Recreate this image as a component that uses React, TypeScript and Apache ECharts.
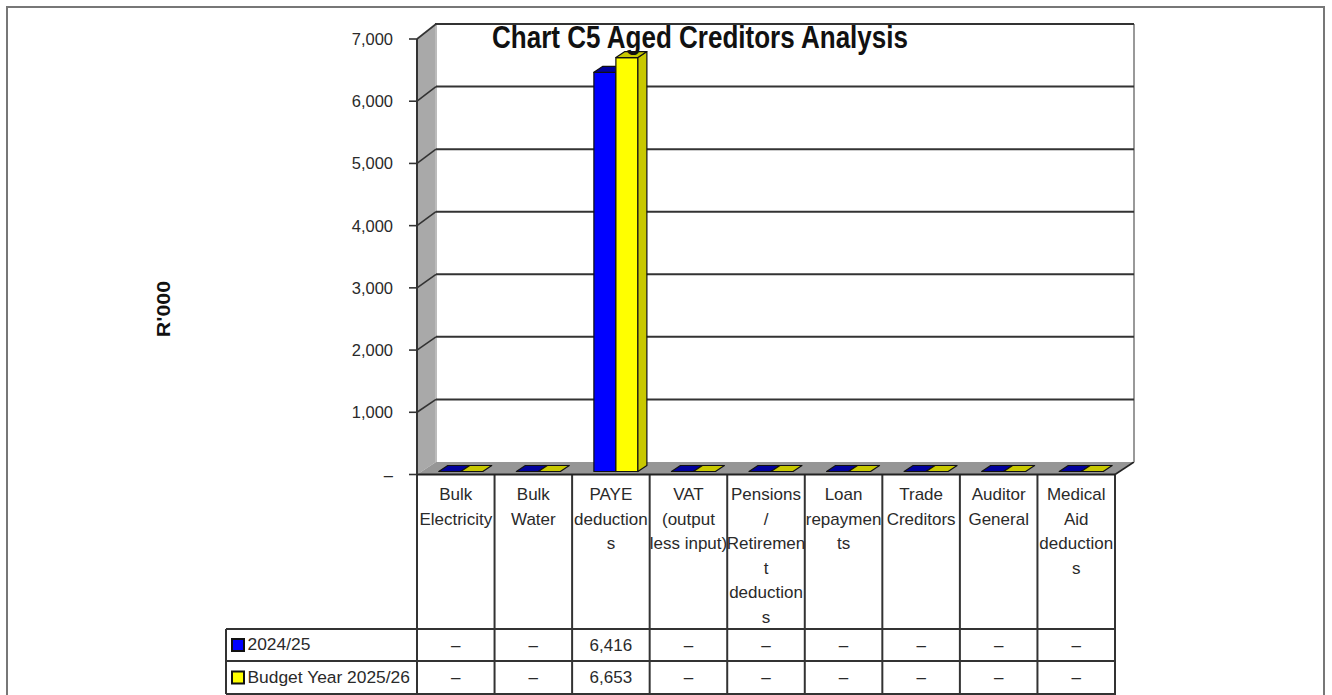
import React, { useEffect, useRef } from "react";
import * as echarts from "echarts";

const categories = [
  "Bulk\nElectricity",
  "Bulk\nWater",
  "PAYE\ndeduction\ns",
  "VAT\n(output\nless input)",
  "Pensions\n/\nRetiremen\nt\ndeduction\ns",
  "Loan\nrepaymen\nts",
  "Trade\nCreditors",
  "Auditor\nGeneral",
  "Medical\nAid\ndeduction\ns",
];
const series2024 = [0, 0, 6416, 0, 0, 0, 0, 0, 0];
const series2025 = [0, 0, 6653, 0, 0, 0, 0, 0, 0];
const seriesNames = ["2024/25", "Budget Year 2025/26"];
const yTicks = [0, 1000, 2000, 3000, 4000, 5000, 6000, 7000];
const titleText = "Chart C5 Aged Creditors Analysis";
const yName = "R'000";

const FONT = "'Liberation Sans', Arial, sans-serif";
const TXT = "#2a2a2a";
const PLOT_L = 417, PLOT_R = 1115, PLOT_T = 39, PLOT_B = 474.5;
const WALL_DX = 19;
const backDy = (v: number) => 12.5 + (2.5 * v) / 7000;
const ROW_TOP = 629, ROW_MID = 661, ROW_BOT = 694, LEG_L = 226;
const bandW = (PLOT_R - PLOT_L) / categories.length;
const fmt = (v: number) => (v === 0 ? "–" : v.toLocaleString("en-US"));

function wallsItem(params: any, api: any) {
  const v = api.value(0);
  const y = api.coord([0, v])[1];
  const by = y - backDy(v);
  const children: any[] = [];
  if (params.dataIndex === 0) {
    const y0 = y;
    const y7 = api.coord([0, 7000])[1];
    const by7 = y7 - backDy(7000);
    const by0 = by;
    const L = PLOT_L, R = PLOT_R, BL = L + WALL_DX, BR = R + WALL_DX;
    children.push(
      { type: "polygon", shape: { points: [[L, y7], [BL, by7], [BL, by0], [L, y0]] }, style: { fill: "#a9a9a9", stroke: "none" } },
      { type: "polygon", shape: { points: [[L, y0], [BL, by0], [BR, by0], [R, y0]] }, style: { fill: "#969696", stroke: "none" } },
      { type: "line", shape: { x1: BL, y1: by0, x2: BL, y2: by7 }, style: { stroke: "#bbb", lineWidth: 2 } },
      { type: "line", shape: { x1: L, y1: y0, x2: R, y2: y0 }, style: { stroke: "#222", lineWidth: 2 } },
      { type: "line", shape: { x1: R, y1: y0, x2: BR, y2: by0 }, style: { stroke: "#222", lineWidth: 1.5 } },
      { type: "line", shape: { x1: BR, y1: by0, x2: BR, y2: by7 }, style: { stroke: "#999", lineWidth: 2 } },
      { type: "line", shape: { x1: L, y1: y7, x2: L, y2: y0 }, style: { stroke: "#333", lineWidth: 2 } },
      { type: "line", shape: { x1: BL - 1, y1: by7, x2: BR, y2: by7 }, style: { stroke: "#333", lineWidth: 2 } }
    );
  }
  if (v > 0) {
    children.push({
      type: "line",
      shape: { x1: PLOT_L + WALL_DX, y1: by, x2: PLOT_R + WALL_DX, y2: by },
      style: { stroke: "#333", lineWidth: 2 },
    });
    children.push({
      type: "line",
      shape: { x1: PLOT_L, y1: y, x2: PLOT_L + WALL_DX, y2: by },
      style: { stroke: "#333", lineWidth: 1.6 },
    });
  }
  children.push({
    type: "line",
    shape: { x1: PLOT_L - 8, y1: y, x2: PLOT_L, y2: y },
    style: { stroke: "#333", lineWidth: 1.6 },
  });
  return { type: "group", children };
}

function barItem(colors: { front: string; side: string; top: string }, offset: number) {
  return (_p: any, api: any) => {
    const base = api.coord([api.value(0), 0]);
    const top = api.coord([api.value(0), api.value(1)]);
    const w = 22, dx = 9, dy = 6, sx = 5, sy = 3;
    const x0 = base[0] + sx + offset * w;
    const x1 = x0 + w;
    const yb = base[1] - sy;
    const yt = top[1] - sy;
    const style = (fill: string) => ({ fill, stroke: "#111", lineWidth: 1.2, lineJoin: "round" });
    const children: any[] = [];
    if (yb - yt > 0.5) {
      children.push({ type: "rect", shape: { x: x0, y: yt, width: w, height: yb - yt }, style: style(colors.front) });
      children.push({ type: "polygon", shape: { points: [[x1, yt], [x1 + dx, yt - dy], [x1 + dx, yb - dy], [x1, yb]] }, style: style(colors.side) });
    }
    children.push({ type: "polygon", shape: { points: [[x0, yt], [x0 + dx, yt - dy], [x1 + dx, yt - dy], [x1, yt]] }, style: style(colors.top) });
    return { type: "group", children };
  };
}

function buildGraphic() {
  const g: any[] = [];
  const lineStyle = { stroke: "#333", lineWidth: 2 };
  g.push({ type: "rect", z: 0, shape: { x: 7, y: 7, width: 1317, height: 700 }, style: { fill: "none", stroke: "#777", lineWidth: 2 } });
  for (let i = 0; i <= categories.length; i++) {
    const x = PLOT_L + i * bandW;
    g.push({ type: "line", shape: { x1: x, y1: PLOT_B, x2: x, y2: 695 }, style: lineStyle });
  }
  [ROW_TOP, ROW_MID, ROW_BOT].forEach((y) =>
    g.push({ type: "line", shape: { x1: LEG_L, y1: y, x2: PLOT_R, y2: y }, style: lineStyle })
  );
  g.push({ type: "line", shape: { x1: LEG_L, y1: ROW_TOP, x2: LEG_L, y2: ROW_BOT }, style: lineStyle });
  const rows = [series2024, series2025];
  const keyColors = ["#0000ff", "#ffff00"];
  rows.forEach((vals, r) => {
    const top = r === 0 ? ROW_TOP : ROW_MID;
    const bot = r === 0 ? ROW_MID : ROW_BOT;
    const cy = (top + bot) / 2;
    g.push({ type: "rect", shape: { x: 232, y: cy - 6, width: 12, height: 12 }, style: { fill: keyColors[r], stroke: "#111", lineWidth: 2 } });
    g.push({ type: "text", style: { x: 247.5, y: cy - 1, text: seriesNames[r], font: `17.4px ${FONT}`, fill: TXT, verticalAlign: "middle", align: "left" } });
    vals.forEach((v, i) => {
      g.push({
        type: "text",
        style: { x: PLOT_L + (i + 0.5) * bandW, y: cy, text: fmt(v), font: `17px ${FONT}`, fill: TXT, align: "center", verticalAlign: "middle" },
      });
    });
  });
  g.push({
    type: "text",
    x: 164,
    y: 309,
    rotation: Math.PI / 2,
    scaleY: 0.82,
    style: { x: 0, y: 0, text: yName, font: `bold 21.5px ${FONT}`, fill: "#111", align: "center", verticalAlign: "middle" },
  });
  g.push({
    type: "text",
    z: 20,
    x: 700,
    y: 37,
    scaleX: 0.84,
    style: { x: 0, y: 0, text: titleText, font: `bold 31px ${FONT}`, fill: "#111", align: "center", verticalAlign: "middle" },
  });
  return g;
}

export default function App() {
  const ref = useRef<HTMLDivElement>(null);
  useEffect(() => {
    const chart = echarts.init(ref.current!, undefined, { renderer: "svg" });
    chart.setOption({
      animation: false,
      backgroundColor: "#fff",
      grid: { left: PLOT_L, top: PLOT_T, width: PLOT_R - PLOT_L, height: PLOT_B - PLOT_T },
      xAxis: {
        type: "category",
        data: categories,
        axisLine: { show: false },
        axisTick: { show: false },
        splitLine: { show: false },
        axisLabel: { interval: 0, margin: 8, fontFamily: FONT, fontSize: 17, lineHeight: 24.5, color: TXT, hideOverlap: false },
      },
      yAxis: {
        type: "value",
        min: 0,
        max: 7000,
        interval: 1000,
        axisLine: { show: false },
        axisTick: { show: false },
        splitLine: { show: false },
        axisLabel: {
          margin: 24,
          fontFamily: FONT,
          fontSize: 16.5,
          color: TXT,
          formatter: (v: number) => fmt(v),
        },
      },
      graphic: buildGraphic(),
      series: [
        {
          type: "custom",
          name: "walls",
          silent: true,
          z: 1,
          clip: false,
          coordinateSystem: "cartesian2d",
          renderItem: (p: any, api: any) => {
            const orig = api.value;
            return wallsItem(p, { ...api, value: (_d: number) => orig(1), coord: api.coord });
          },
          data: yTicks.map((t) => [0, t]),
          encode: { x: 0, y: 1 },
        },
        {
          type: "custom",
          name: seriesNames[0],
          z: 3,
          clip: false,
          renderItem: barItem({ front: "#0000ff", side: "#00009c", top: "#00009c" }, -1),
          data: series2024.map((v, i) => [i, v]),
          encode: { x: 0, y: 1 },
        },
        {
          type: "custom",
          name: seriesNames[1],
          z: 4,
          clip: false,
          renderItem: barItem({ front: "#ffff00", side: "#c8c800", top: "#c8c800" }, 0),
          data: series2025.map((v, i) => [i, v]),
          encode: { x: 0, y: 1 },
        },
      ],
    });
    return () => chart.dispose();
  }, []);
  return <div ref={ref} style={{ position: "fixed", left: 0, top: 0, width: 1332, height: 695 }} />;
}
